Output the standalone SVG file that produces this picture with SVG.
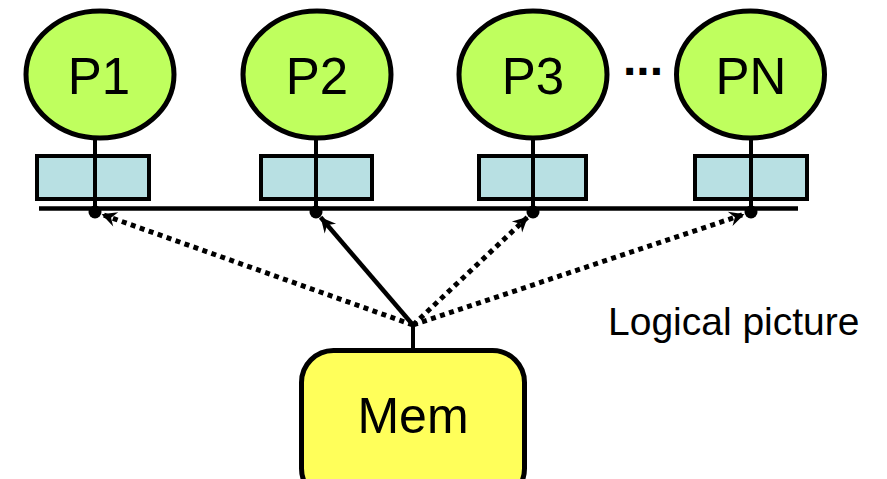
<svg xmlns="http://www.w3.org/2000/svg" width="887" height="479" viewBox="0 0 887 479">
  <style>
    .proc { fill: #BFFF5E; stroke: #000; stroke-width: 5; }
    .cache { fill: #B8E0E3; stroke: #000; stroke-width: 4; }
    .mem { fill: #FFFF5A; stroke: #000; stroke-width: 5; }
    .wire { stroke: #000; stroke-width: 4; fill: none; }
    .bus { stroke: #000; stroke-width: 4.5; fill: none; }
    .link { stroke: #000; stroke-width: 4.5; fill: none; marker-end: url(#head); }
    .dotted { stroke-width: 5; stroke-dasharray: 5 4.5; }
    .lbl { font-family: "Liberation Sans", Arial, sans-serif; fill: #000; }
  </style>
  <defs>
    <marker id="head" markerUnits="userSpaceOnUse" markerWidth="20" markerHeight="20" refX="0" refY="0" viewBox="-16 -10 20 20" orient="auto">
      <path d="M0,0 L-15,-7.5 L-10,0 L-15,7.5 Z" fill="#000"/>
    </marker>
  </defs>

  <rect width="887" height="479" fill="#fff"/>

  <!-- shared bus -->
  <line class="bus" x1="39" y1="208.5" x2="798" y2="208.5"/>

  <g id="p1">
    <ellipse class="proc" cx="100" cy="74.5" rx="74" ry="63.5"/>
    <rect class="cache" x="37" y="156" width="112" height="43"/>
    <line class="wire" x1="95" y1="138" x2="95" y2="212"/>
    <circle cx="95" cy="212" r="6.5"/>
    <text class="lbl" x="99" y="94" font-size="51" text-anchor="middle">P1</text>
  </g>

  <g id="p2">
    <ellipse class="proc" cx="317" cy="74.5" rx="74" ry="63.5"/>
    <rect class="cache" x="261" y="156" width="111" height="43"/>
    <line class="wire" x1="316" y1="138" x2="316" y2="212"/>
    <circle cx="316" cy="212" r="6.5"/>
    <text class="lbl" x="317" y="94" font-size="51" text-anchor="middle">P2</text>
  </g>

  <g id="p3">
    <ellipse class="proc" cx="533" cy="74.5" rx="74" ry="63.5"/>
    <rect class="cache" x="479" y="156" width="107" height="43"/>
    <line class="wire" x1="533" y1="138" x2="533" y2="212"/>
    <circle cx="533" cy="212" r="6.5"/>
    <text class="lbl" x="533" y="94" font-size="51" text-anchor="middle">P3</text>
  </g>

  <text id="ellipsis" class="lbl" x="623" y="75" font-size="48" font-weight="bold">...</text>

  <g id="pn">
    <ellipse class="proc" cx="750.5" cy="74.5" rx="74" ry="63.5"/>
    <rect class="cache" x="695" y="156" width="112" height="43"/>
    <line class="wire" x1="751" y1="138" x2="751" y2="212"/>
    <circle cx="751" cy="212" r="6.5"/>
    <text class="lbl" x="751" y="94" font-size="51" text-anchor="middle">PN</text>
  </g>

  <g id="mem">
    <rect class="mem" x="301.5" y="350.5" width="223" height="150" rx="32" ry="32"/>
    <text class="lbl" x="413" y="433" font-size="50" text-anchor="middle">Mem</text>
  </g>

  <!-- memory-to-processor connectors -->
  <g id="connectors">
    <line class="wire" x1="413" y1="349" x2="413" y2="324"/>
    <line class="link dotted" x1="413" y1="325" x2="101.6" y2="214.3"/>
    <line class="link" x1="413" y1="325" x2="320.6" y2="217.3"/>
    <line class="link dotted" x1="413" y1="325" x2="527.9" y2="216.8"/>
    <line class="link dotted" x1="413" y1="325" x2="744.4" y2="214.2"/>
  </g>

  <text id="caption" class="lbl" x="608" y="335" font-size="39">Logical picture</text>
</svg>
